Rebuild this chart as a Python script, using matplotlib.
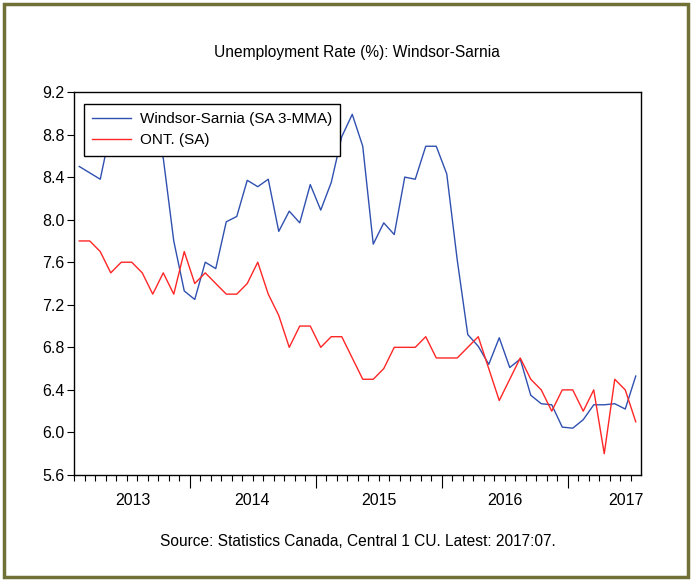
import matplotlib
matplotlib.use("Agg")
import matplotlib.pyplot as plt
from matplotlib.patches import Rectangle
import numpy as np
import pandas as pd

# monthly series, 2013:02 .. 2017:07
months = pd.period_range("2013-02", "2017-07", freq="M")

windsor_sarnia = [
    8.50, 8.44, 8.38, 8.85, 8.95, 9.05, 8.95, 8.80, 8.58, 7.80,
    7.33, 7.25, 7.60, 7.54, 7.98, 8.03, 8.37, 8.31, 8.38, 7.89,
    8.08, 7.97, 8.33, 8.09, 8.35, 8.78, 8.99, 8.69, 7.77, 7.97,
    7.86, 8.40, 8.38, 8.69, 8.69, 8.43, 7.62, 6.92, 6.81, 6.64,
    6.89, 6.61, 6.69, 6.35, 6.27, 6.26, 6.05, 6.04, 6.12, 6.26,
    6.26, 6.27, 6.22, 6.53,
]
ontario = [
    7.8, 7.8, 7.7, 7.5, 7.6, 7.6, 7.5, 7.3, 7.5, 7.3,
    7.7, 7.4, 7.5, 7.4, 7.3, 7.3, 7.4, 7.6, 7.3, 7.1,
    6.8, 7.0, 7.0, 6.8, 6.9, 6.9, 6.7, 6.5, 6.5, 6.6,
    6.8, 6.8, 6.8, 6.9, 6.7, 6.7, 6.7, 6.8, 6.9, 6.6,
    6.3, 6.5, 6.7, 6.5, 6.4, 6.2, 6.4, 6.4, 6.2, 6.4,
    5.8, 6.5, 6.4, 6.1,
]
years = ["2013", "2014", "2015", "2016", "2017"]
y_ticks = [5.6, 6.0, 6.4, 6.8, 7.2, 7.6, 8.0, 8.4, 8.8, 9.2]

BLUE = "#3050b0"
RED = "#ff2626"
OLIVE = "#717137"

plt.rcParams["font.family"] = ["Liberation Sans", "DejaVu Sans"]

x = np.arange(len(months))

fig = plt.figure(figsize=(6.91, 5.80), dpi=100)
ax = fig.add_axes([74 / 691, 1 - 475 / 580, 567 / 691, 383 / 580])

ax.plot(x, windsor_sarnia, color=BLUE, lw=1.0, label="Windsor-Sarnia (SA 3-MMA)")
ax.plot(x, ontario, color=RED, lw=1.0, label="ONT. (SA)")

ax.set_xlim(-0.5, len(months) - 0.5)
ax.set_ylim(5.6, 9.2)
ax.set_yticks(y_ticks)
ax.set_yticklabels([f"{v:.1f}" for v in y_ticks])

# year boundaries as long ticks, every month as short ticks
jan_idx = [i for i, m in enumerate(months) if m.month == 1]
ax.set_xticks([i - 0.5 for i in jan_idx])
ax.set_xticklabels([])
ax.set_xticks(x - 0.5, minor=True)
ax.tick_params(axis="x", which="major", direction="out", length=9, width=0.8)
ax.tick_params(axis="x", which="minor", direction="out", length=4, width=0.8)
ax.tick_params(axis="y", direction="out", length=5, width=0.8, labelsize=11.5, pad=2)

# year labels centred under each year's months
year_pos = []
for y in years:
    idx = [i for i, m in enumerate(months) if str(m.year) == y]
    if len(idx) == 12:
        year_pos.append((idx[0] + idx[-1]) / 2)
    else:
        year_pos.append(idx[0] + 5.1)
sec = ax.secondary_xaxis("bottom")
sec.set_xticks(year_pos, labels=years)
sec.tick_params(length=0, pad=13, labelsize=11.5)
sec.spines["bottom"].set_visible(False)

for s in ax.spines.values():
    s.set_linewidth(1.0)

leg = ax.legend(
    loc="upper left",
    bbox_to_anchor=(10 / 567, 1 - 12 / 383),
    borderaxespad=0,
    fancybox=False,
    framealpha=1,
    edgecolor="black",
    fontsize=11,
    handlelength=2.5,
    handletextpad=0.6,
    borderpad=0.55,
    labelspacing=0.45,
)
leg.get_frame().set_linewidth(1.0)

fig.text(357 / 691, 1 - 52 / 580, "Unemployment Rate (%): Windsor-Sarnia",
         ha="center", va="center", fontsize=11.2)
fig.text(358 / 691, 1 - 542 / 580, "Source: Statistics Canada, Central 1 CU. Latest: 2017:07.",
         ha="center", va="center", fontsize=11.2)

fig.patches.append(Rectangle((3.5 / 691, 3.5 / 580), 684 / 691, 573 / 580,
                             transform=fig.transFigure, fill=False,
                             edgecolor=OLIVE, linewidth=2.5))

fig.savefig("out.png", dpi=100)
